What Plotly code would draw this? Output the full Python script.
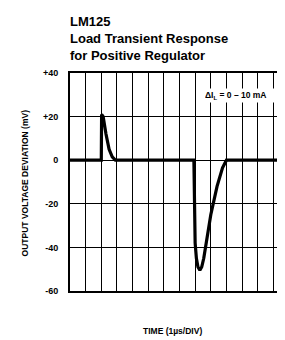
import plotly.graph_objects as go

# Data (time in divisions, 1 µs/div; deviation in mV)
time_div = [0, 2.0, 2.02, 2.12, 2.3, 2.5, 2.7, 2.9, 7.92, 7.95, 8.0, 8.08, 8.18,
            8.3, 8.42, 8.55, 8.7, 9.0, 9.4, 9.75, 10.0, 14]
deviation_mv = [0, 0, 21, 20, 12, 5, 1.5, 0, 0, -25, -38, -45, -49,
                -50.5, -49, -45, -39, -25, -12, -3.5, 0, 0]

y_tick_vals = [40, 20, 0, -20, -40, -60]
y_tick_text = ["+40", "+20", "0", "-20", "-40", "-60"]

title_lines = ["LM125", "Load Transient Response", "for Positive Regulator"]

FONT = "Liberation Sans"

fig = go.Figure()
fig.add_trace(go.Scatter(x=time_div, y=deviation_mv, mode="lines",
                         line=dict(color="black", width=3.2),
                         hoverinfo="skip", showlegend=False))

W, H = 285, 340
L, R, T, B = 62, 2, 65, 57
pw, ph = W - L - R, H - T - B

fig.update_layout(
    width=W, height=H,
    margin=dict(l=L, r=R, t=T, b=B),
    paper_bgcolor="white", plot_bgcolor="white",
    font=dict(family=FONT, color="black"),
    showlegend=False,
)
fig.update_xaxes(range=[0, 14], dtick=1, tick0=0, showgrid=True,
                 gridcolor="black", gridwidth=1, showticklabels=False,
                 showline=True, linecolor="black", linewidth=2, mirror=True,
                 zeroline=False, ticks="")
fig.update_yaxes(range=[-60, 40], tickvals=y_tick_vals, ticktext=y_tick_text,
                 showgrid=True, gridcolor="black", gridwidth=1,
                 showline=True, linecolor="black", linewidth=2, mirror=True,
                 zeroline=False, ticks="", ticklabelstandoff=8,
                 tickfont=dict(family=FONT, size=9, color="black", weight="bold"))

def px_to_paper_y(py):
    return 1 + (T - py) / ph

def px_to_paper_x(px):
    return (px - L) / pw

for i, line in enumerate(title_lines):
    fig.add_annotation(text="<b>" + line + "</b>", xref="paper", yref="paper",
                       x=px_to_paper_x(60), y=px_to_paper_y(14 + 16.5 * i),
                       xanchor="left", yanchor="middle", showarrow=False,
                       font=dict(family=FONT, size=13, color="black"))

fig.add_annotation(text="<b>OUTPUT VOLTAGE DEVIATION (mV)</b>", xref="paper", yref="paper",
                   x=px_to_paper_x(17), y=px_to_paper_y(175), textangle=-90,
                   xanchor="center", yanchor="middle", showarrow=False,
                   font=dict(family=FONT, size=8.5, color="black"))

fig.add_annotation(text="<b>TIME (1µs/DIV)</b>", xref="paper", yref="paper",
                   x=px_to_paper_x(165), y=px_to_paper_y(323),
                   xanchor="center", yanchor="middle", showarrow=False,
                   font=dict(family=FONT, size=8.5, color="black"))

fig.add_annotation(text="<b>ΔI<sub>L</sub> = 0 – 10 mA</b>", xref="paper", yref="paper",
                   x=px_to_paper_x(196), y=px_to_paper_y(87),
                   xanchor="left", yanchor="middle", showarrow=False,
                   bgcolor="white", width=80, align="left",
                   font=dict(family=FONT, size=8.5, color="black"))

fig.write_html("out.html")
